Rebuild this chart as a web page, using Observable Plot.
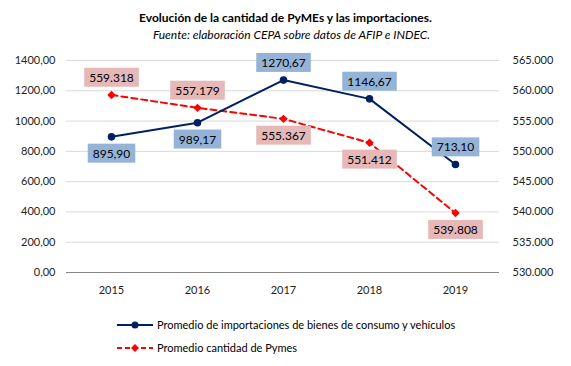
<!DOCTYPE html>
<html><head><meta charset="utf-8">
<script src="https://cdn.jsdelivr.net/npm/d3@7"></script>
<script src="https://cdn.jsdelivr.net/npm/@observablehq/plot@0.6"></script>
<style>
body{margin:0;background:#fff;font-family:Lato,"Open Sans",sans-serif;}
#wrap{position:relative;width:571px;height:366px;overflow:hidden;background:#fff}
#title{position:absolute;top:10px;left:0;width:571px;text-align:center;font-size:12px;font-weight:bold;color:#000;line-height:15px}
#subtitle{position:absolute;top:27px;left:6px;width:571px;text-align:center;font-size:12px;font-style:italic;color:#000;line-height:15px}
#chart{position:absolute;top:0;left:0}
#legend{position:absolute;left:117px;top:316px;font-size:11px;color:#000}
.item{display:flex;align-items:center;height:17px;margin-bottom:6px}
.item svg{margin-right:4px}
</style></head>
<body>
<div id="wrap">
  <div id="title">Evolución de la cantidad de PyMEs y las importaciones.</div>
  <div id="subtitle">Fuente: elaboración CEPA sobre datos de AFIP e INDEC.</div>
  <div id="chart"></div>
  <div id="legend">
    <div class="item"><svg width="36" height="10"><line x1="0" y1="5" x2="36" y2="5" stroke="#002060" stroke-width="2"/><circle cx="18" cy="5" r="3.5" fill="#002060"/></svg><span>Promedio de importaciones de bienes de consumo y vehículos</span></div>
    <div class="item"><svg width="36" height="10"><line x1="0" y1="5" x2="36" y2="5" stroke="#ff0000" stroke-width="2" stroke-dasharray="5,3"/><path d="M18,1L22,5L18,9L14,5Z" fill="#ff0000"/></svg><span>Promedio cantidad de Pymes</span></div>
  </div>
</div>
<script>
const years = ["2015","2016","2017","2018","2019"];
const importaciones = [895.90, 989.17, 1270.67, 1146.67, 713.10];
const pymes = [559318, 557179, 555367, 551412, 539808];
const leftTicks = [0, 200, 400, 600, 800, 1000, 1200, 1400];
const rightTicks = [530000, 535000, 540000, 545000, 550000, 555000, 560000, 565000];
const impLabelPos = ["below", "below", "above", "above", "above"];
const pymLabelPos = ["above", "above", "below", "below", "below"];

const locale = d3.formatLocale({decimal: ",", thousands: ".", grouping: [3], currency: ["$", ""]});
const fmtLeft = locale.format(".2f");
const fmtRight = locale.format(",.0f");
const rMin = 530000, rMax = 565000, lMax = 1400;
const toLeft = v => (v - rMin) / (rMax - rMin) * lMax;
const fromLeft = d => Math.round(rMin + d / lMax * (rMax - rMin));

const impData = years.map((y, i) => ({year: y, v: importaciones[i], pos: impLabelPos[i]}));
const pymData = years.map((y, i) => ({year: y, raw: pymes[i], v: toLeft(pymes[i]), pos: pymLabelPos[i]}));

const BLUE = "#002060", RED = "#ff0000";
const labelFont = 12;

const chart = Plot.plot({
  width: 571, height: 300,
  marginTop: 60, marginBottom: 28, marginLeft: 66, marginRight: 72,
  x: {type: "band", domain: years, padding: 0},
  y: {domain: [0, lMax]},
  style: {fontFamily: "Lato, 'Open Sans', sans-serif", fontSize: "11px", color: "#222", background: "transparent"},
  marks: [
    Plot.gridY(leftTicks, {stroke: "#d9d9d9", strokeOpacity: 1}),
    Plot.ruleY([0], {stroke: "#868686"}),
    Plot.axisY(leftTicks, {anchor: "left", tickSize: 0, tickPadding: 11, tickFormat: fmtLeft, label: null}),
    Plot.axisY(rightTicks.map(toLeft), {anchor: "right", tickSize: 0, tickPadding: 13, tickFormat: d => fmtRight(fromLeft(d)), label: null, textAnchor: "start"}),
    Plot.axisX({tickSize: 0, tickPadding: 14, label: null}),
    Plot.line(pymData, {x: "year", y: "v", stroke: RED, strokeWidth: 2, strokeDasharray: "6,4"}),
    Plot.dot(pymData, {x: "year", y: "v", symbol: "diamond2", r: 3.8, fill: RED}),
    Plot.line(impData, {x: "year", y: "v", stroke: BLUE, strokeWidth: 2}),
    Plot.dot(impData, {x: "year", y: "v", r: 3.8, fill: BLUE}),
    Plot.text(impData.filter(d => d.pos === "above"), {x: "year", y: "v", text: d => fmtLeft(d.v), dy: -17, fill: "#000", fontSize: labelFont}),
    Plot.text(impData.filter(d => d.pos === "below"), {x: "year", y: "v", text: d => fmtLeft(d.v), dy: 17, fill: "#000", fontSize: labelFont}),
    Plot.text(pymData.filter(d => d.pos === "above"), {x: "year", y: "v", text: d => fmtRight(d.raw), dy: -17, fill: "#000", fontSize: labelFont}),
    Plot.text(pymData.filter(d => d.pos === "below"), {x: "year", y: "v", text: d => fmtRight(d.raw), dy: 17, fill: "#000", fontSize: labelFont})
  ]
});
document.getElementById("chart").appendChild(chart);

// label backgrounds
const bgColors = ["#95b3d7", "#95b3d7", "#e6b9b8", "#e6b9b8"];
const groups = chart.querySelectorAll('g[aria-label="text"]');
groups.forEach((g, gi) => {
  g.querySelectorAll("text").forEach(t => {
    const b = t.getBBox();
    const r = document.createElementNS("http://www.w3.org/2000/svg", "rect");
    const padX = 5, padY = 2;
    r.setAttribute("x", b.x - padX);
    r.setAttribute("y", b.y - padY);
    r.setAttribute("width", b.width + 2 * padX);
    r.setAttribute("height", b.height + 2 * padY);
    r.setAttribute("fill", bgColors[gi] || "#ccc");
    if (t.getAttribute("transform")) r.setAttribute("transform", t.getAttribute("transform"));
    t.parentNode.insertBefore(r, t);
  });
});
</script>
</body></html>
